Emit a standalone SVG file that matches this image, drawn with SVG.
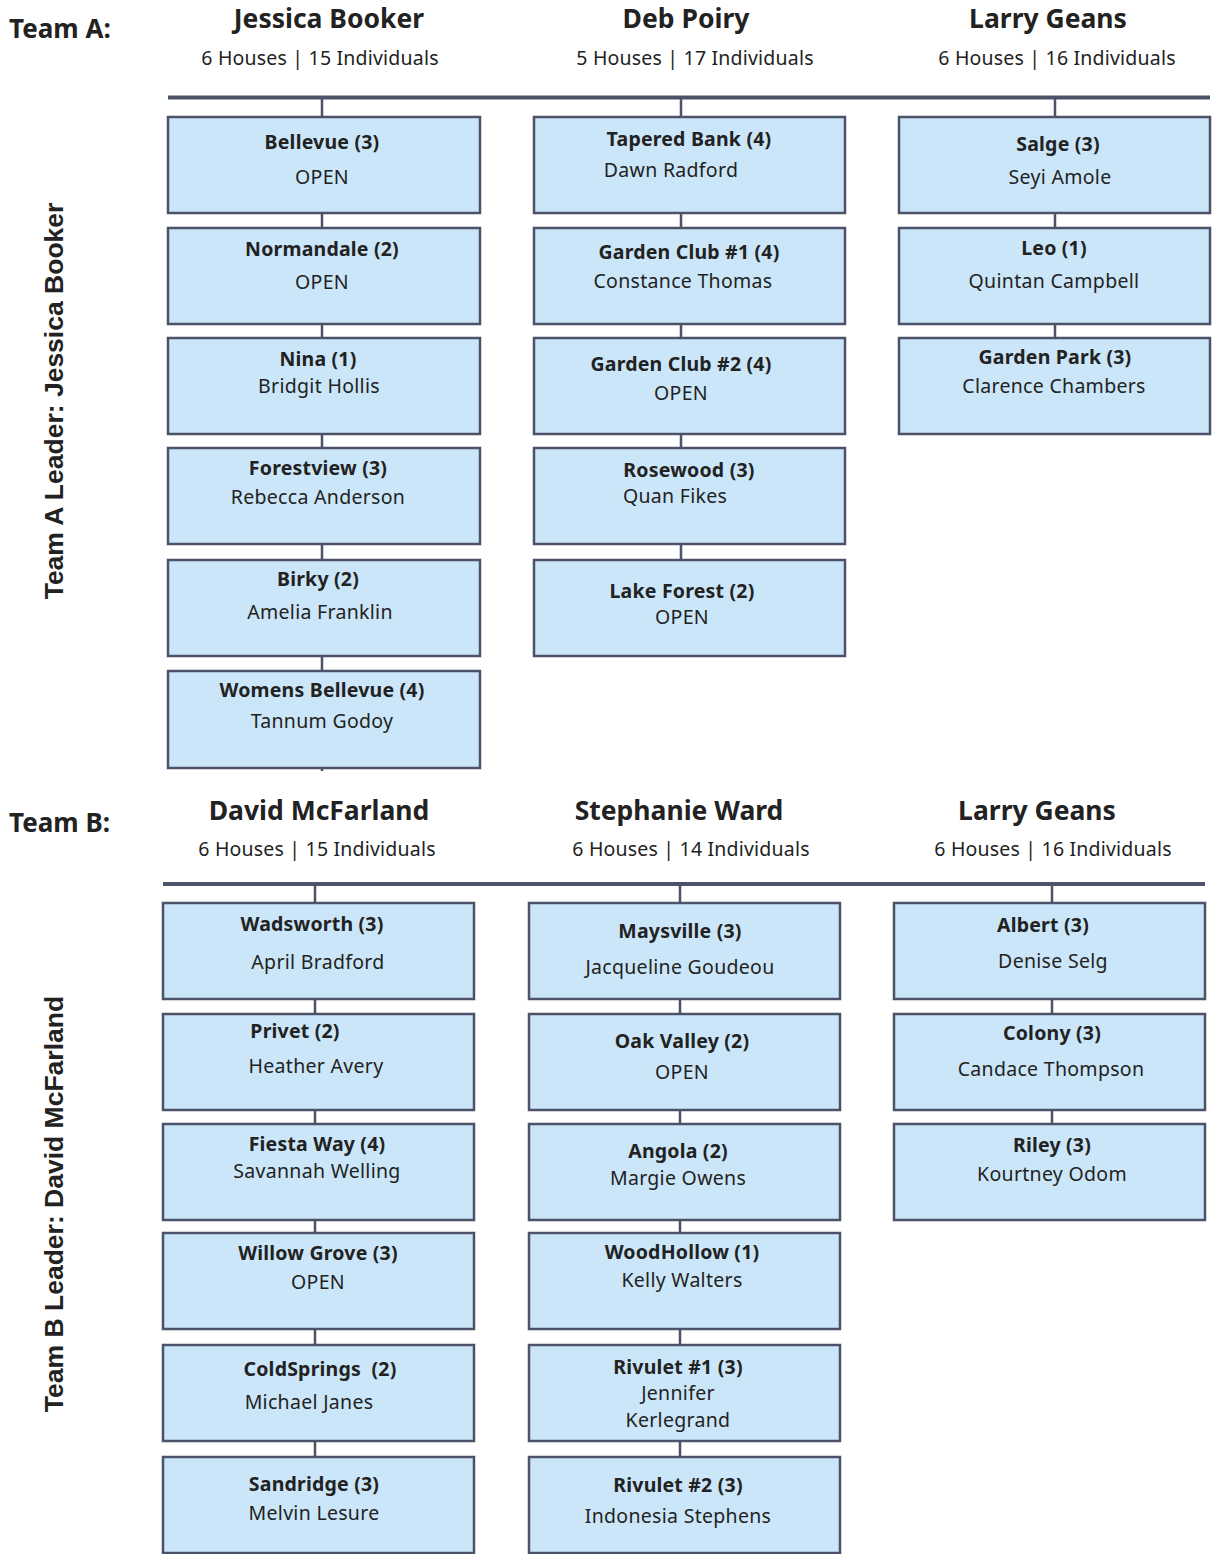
<svg xmlns="http://www.w3.org/2000/svg" width="1216" height="1554" viewBox="0 0 1216 1554">
<style>
  .bg{fill:#ffffff}
  .box{fill:#cbe6f8;stroke:#4c5268;stroke-width:2.5}
  .conn{stroke:#4c5268;stroke-width:2.5;fill:none}
  .bus{stroke:#4c5268;stroke-width:4;fill:none}
  text{font-family:"Noto Sans","Open Sans","DejaVu Sans",sans-serif;fill:#222222}
  .team{font-size:26px;font-weight:bold}
  .lead{font-size:26.5px;font-weight:bold;text-anchor:middle}
  .sub{font-size:19.5px;text-anchor:middle;letter-spacing:0.2px}
  .t{font-size:19.5px;font-weight:bold;text-anchor:middle;letter-spacing:0.2px}
  .n{font-size:19.5px;text-anchor:middle;letter-spacing:0.3px}
  .side{font-family:"Liberation Sans",Arial,sans-serif;font-size:26.5px;font-weight:bold;text-anchor:middle}
</style>
<rect class="bg" x="0" y="0" width="1216" height="1554"/>

<g id="headers">
  <text class="team" x="9" y="38">Team A:</text>
  <text class="lead" x="329" y="28">Jessica Booker</text>
  <text class="sub" x="320" y="65">6 Houses | 15 Individuals</text>
  <text class="lead" x="686" y="28">Deb Poiry</text>
  <text class="sub" x="695" y="65">5 Houses | 17 Individuals</text>
  <text class="lead" x="1048" y="28">Larry Geans</text>
  <text class="sub" x="1057" y="65">6 Houses | 16 Individuals</text>

  <text class="team" x="9" y="832">Team B:</text>
  <text class="lead" x="319" y="820">David McFarland</text>
  <text class="sub" x="317" y="856">6 Houses | 15 Individuals</text>
  <text class="lead" x="679" y="820">Stephanie Ward</text>
  <text class="sub" x="691" y="856">6 Houses | 14 Individuals</text>
  <text class="lead" x="1037" y="820">Larry Geans</text>
  <text class="sub" x="1053" y="856">6 Houses | 16 Individuals</text>

  <text class="side" transform="translate(63,401) rotate(-90)">Team A Leader: Jessica Booker</text>
  <text class="side" transform="translate(63,1204) rotate(-90)">Team B Leader: David McFarland</text>
</g>

<g id="connectors">
  <line class="bus" x1="168" y1="97.5" x2="1210" y2="97.5"/>
  <line class="conn" x1="322" y1="99" x2="322" y2="771"/>
  <line class="conn" x1="681" y1="99" x2="681" y2="560"/>
  <line class="conn" x1="1055" y1="99" x2="1055" y2="338"/>
  <line class="bus" x1="163" y1="884" x2="1205" y2="884"/>
  <line class="conn" x1="315" y1="886" x2="315" y2="1457"/>
  <line class="conn" x1="680" y1="886" x2="680" y2="1457"/>
  <line class="conn" x1="1052" y1="886" x2="1052" y2="1124"/>
</g>

<!-- Team A column 1 -->
<g id="a-bellevue"><rect class="box" x="168" y="117" width="312" height="96"/><text class="t" x="322" y="149">Bellevue (3)</text><text class="n" x="322" y="184">OPEN</text></g>
<g id="a-normandale"><rect class="box" x="168" y="228" width="312" height="96"/><text class="t" x="322" y="256">Normandale (2)</text><text class="n" x="322" y="289">OPEN</text></g>
<g id="a-nina"><rect class="box" x="168" y="338" width="312" height="96"/><text class="t" x="318" y="366">Nina (1)</text><text class="n" x="319" y="393">Bridgit Hollis</text></g>
<g id="a-forestview"><rect class="box" x="168" y="448" width="312" height="96"/><text class="t" x="318" y="475">Forestview (3)</text><text class="n" x="318" y="504">Rebecca Anderson</text></g>
<g id="a-birky"><rect class="box" x="168" y="560" width="312" height="96"/><text class="t" x="318" y="586">Birky (2)</text><text class="n" x="320" y="619">Amelia Franklin</text></g>
<g id="a-womens-bellevue"><rect class="box" x="168" y="671" width="312" height="97"/><text class="t" x="322" y="697">Womens Bellevue (4)</text><text class="n" x="322" y="728">Tannum Godoy</text></g>

<!-- Team A column 2 -->
<g id="a-tapered-bank"><rect class="box" x="534" y="117" width="311" height="96"/><text class="t" x="689" y="146">Tapered Bank (4)</text><text class="n" x="671" y="177">Dawn Radford</text></g>
<g id="a-garden-club-1"><rect class="box" x="534" y="228" width="311" height="96"/><text class="t" x="689" y="259">Garden Club #1 (4)</text><text class="n" x="683" y="288">Constance Thomas</text></g>
<g id="a-garden-club-2"><rect class="box" x="534" y="338" width="311" height="96"/><text class="t" x="681" y="371">Garden Club #2 (4)</text><text class="n" x="681" y="400">OPEN</text></g>
<g id="a-rosewood"><rect class="box" x="534" y="448" width="311" height="96"/><text class="t" x="689" y="477">Rosewood (3)</text><text class="n" x="675" y="503">Quan Fikes</text></g>
<g id="a-lake-forest"><rect class="box" x="534" y="560" width="311" height="96"/><text class="t" x="682" y="598">Lake Forest (2)</text><text class="n" x="682" y="624">OPEN</text></g>

<!-- Team A column 3 -->
<g id="a-salge"><rect class="box" x="899" y="117" width="311" height="96"/><text class="t" x="1058" y="151">Salge (3)</text><text class="n" x="1060" y="184">Seyi Amole</text></g>
<g id="a-leo"><rect class="box" x="899" y="228" width="311" height="96"/><text class="t" x="1054" y="255">Leo (1)</text><text class="n" x="1054" y="288">Quintan Campbell</text></g>
<g id="a-garden-park"><rect class="box" x="899" y="338" width="311" height="96"/><text class="t" x="1055" y="364">Garden Park (3)</text><text class="n" x="1054" y="393">Clarence Chambers</text></g>

<!-- Team B column 1 -->
<g id="b-wadsworth"><rect class="box" x="163" y="903" width="311" height="96"/><text class="t" x="312" y="931">Wadsworth (3)</text><text class="n" x="318" y="969">April Bradford</text></g>
<g id="b-privet"><rect class="box" x="163" y="1014" width="311" height="96"/><text class="t" x="295" y="1038">Privet (2)</text><text class="n" x="316" y="1073">Heather Avery</text></g>
<g id="b-fiesta-way"><rect class="box" x="163" y="1124" width="311" height="96"/><text class="t" x="317" y="1151">Fiesta Way (4)</text><text class="n" x="317" y="1178">Savannah Welling</text></g>
<g id="b-willow-grove"><rect class="box" x="163" y="1233" width="311" height="96"/><text class="t" x="318" y="1260">Willow Grove (3)</text><text class="n" x="318" y="1289">OPEN</text></g>
<g id="b-coldsprings"><rect class="box" x="163" y="1345" width="311" height="96"/><text class="t" x="320" y="1376" xml:space="preserve">ColdSprings  (2)</text><text class="n" x="309" y="1409">Michael Janes</text></g>
<g id="b-sandridge"><rect class="box" x="163" y="1457" width="311" height="96"/><text class="t" x="314" y="1491">Sandridge (3)</text><text class="n" x="314" y="1520">Melvin Lesure</text></g>

<!-- Team B column 2 -->
<g id="b-maysville"><rect class="box" x="529" y="903" width="311" height="96"/><text class="t" x="680" y="938">Maysville (3)</text><text class="n" x="680" y="974">Jacqueline Goudeou</text></g>
<g id="b-oak-valley"><rect class="box" x="529" y="1014" width="311" height="96"/><text class="t" x="682" y="1048">Oak Valley (2)</text><text class="n" x="682" y="1079">OPEN</text></g>
<g id="b-angola"><rect class="box" x="529" y="1124" width="311" height="96"/><text class="t" x="678" y="1158">Angola (2)</text><text class="n" x="678" y="1185">Margie Owens</text></g>
<g id="b-woodhollow"><rect class="box" x="529" y="1233" width="311" height="96"/><text class="t" x="682" y="1259">WoodHollow (1)</text><text class="n" x="682" y="1287">Kelly Walters</text></g>
<g id="b-rivulet-1"><rect class="box" x="529" y="1345" width="311" height="96"/><text class="t" x="678" y="1374">Rivulet #1 (3)</text><text class="n" x="678" y="1400">Jennifer</text><text class="n" x="678" y="1427">Kerlegrand</text></g>
<g id="b-rivulet-2"><rect class="box" x="529" y="1457" width="311" height="96"/><text class="t" x="678" y="1492">Rivulet #2 (3)</text><text class="n" x="678" y="1523">Indonesia Stephens</text></g>

<!-- Team B column 3 -->
<g id="b-albert"><rect class="box" x="894" y="903" width="311" height="96"/><text class="t" x="1043" y="932">Albert (3)</text><text class="n" x="1053" y="968">Denise Selg</text></g>
<g id="b-colony"><rect class="box" x="894" y="1014" width="311" height="96"/><text class="t" x="1052" y="1040">Colony (3)</text><text class="n" x="1051" y="1076">Candace Thompson</text></g>
<g id="b-riley"><rect class="box" x="894" y="1124" width="311" height="96"/><text class="t" x="1052" y="1152">Riley (3)</text><text class="n" x="1052" y="1181">Kourtney Odom</text></g>
</svg>
